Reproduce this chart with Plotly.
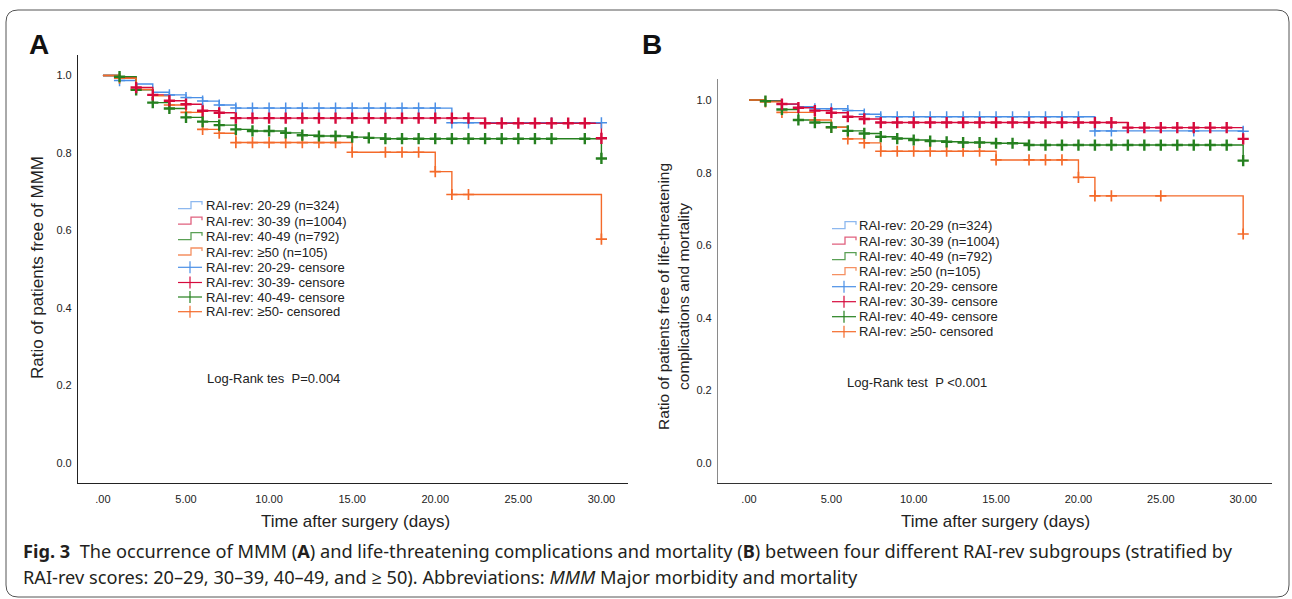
import plotly.graph_objects as go

W, H = 1292, 599

# ---------------- data ----------------
GROUPS = ["20-29", "30-39", "40-49", "≥50"]
N_LABELS = ["RAI-rev: 20-29 (n=324)", "RAI-rev: 30-39 (n=1004)", "RAI-rev: 40-49 (n=792)", "RAI-rev: ≥50 (n=105)"]
CENS_LABELS = ["RAI-rev: 20-29- censore", "RAI-rev: 30-39- censore", "RAI-rev: 40-49- censore", "RAI-rev: ≥50- censored"]

# Panel A (MMM)
A_t_2029 = [0, 1, 2, 3, 4, 5, 6, 7, 8, 21, 30]
A_s_2029 = [1.0, 0.987, 0.978, 0.957, 0.950, 0.943, 0.934, 0.924, 0.916, 0.878, 0.878]
A_t_3039 = [0, 1, 2, 3, 4, 5, 6, 7, 8, 23, 30]
A_s_3039 = [1.0, 0.995, 0.969, 0.950, 0.935, 0.926, 0.909, 0.904, 0.890, 0.877, 0.838]
A_t_4049 = [0, 1, 2, 3, 4, 5, 6, 7, 8, 9, 11, 12, 13, 15, 16, 17, 30]
A_s_4049 = [1.0, 0.997, 0.963, 0.930, 0.915, 0.892, 0.881, 0.872, 0.861, 0.857, 0.852, 0.846, 0.844, 0.841, 0.839, 0.837, 0.786]
A_t_50 = [0, 1, 2, 3, 4, 5, 6, 7, 8, 15, 20, 21, 30]
A_s_50 = [1.0, 0.993, 0.964, 0.948, 0.924, 0.905, 0.861, 0.851, 0.827, 0.802, 0.752, 0.693, 0.578]

A_c_2029 = [1, 4, 5, 6, 7, 8, 9, 10, 11, 12, 13, 14, 15, 16, 17, 18, 19, 20, 21, 22, 24, 27, 30]
A_c_3039 = list(range(2, 31))
A_c_4049 = list(range(1, 28)) + [29, 30]
A_c_50 = [1, 2, 4, 5, 6, 7, 8, 9, 10, 11, 12, 13, 14, 15, 17, 18, 19, 20, 21, 22, 30]

# Panel B (life-threatening complications and mortality)
B_t_2029 = [0, 1, 2, 3, 4, 6, 7, 8, 21, 30]
B_s_2029 = [1.0, 0.998, 0.988, 0.982, 0.976, 0.971, 0.961, 0.954, 0.915, 0.914]
B_t_3039 = [0, 1, 2, 3, 4, 5, 6, 7, 8, 23, 30]
B_s_3039 = [1.0, 0.997, 0.989, 0.979, 0.971, 0.965, 0.954, 0.948, 0.938, 0.924, 0.893]
B_t_4049 = [0, 1, 2, 3, 4, 5, 6, 7, 8, 9, 10, 11, 12, 13, 15, 17, 30]
B_s_4049 = [1.0, 0.997, 0.974, 0.945, 0.938, 0.925, 0.915, 0.908, 0.899, 0.894, 0.890, 0.887, 0.885, 0.883, 0.881, 0.876, 0.833]
B_t_50 = [0, 1, 2, 4, 5, 6, 7, 8, 15, 20, 21, 30]
B_s_50 = [1.0, 0.995, 0.966, 0.945, 0.925, 0.893, 0.882, 0.859, 0.835, 0.787, 0.736, 0.631]

B_c_2029 = list(range(4, 23)) + [27, 30]
B_c_3039 = list(range(2, 31))
B_c_4049 = list(range(1, 31))
B_c_50 = [1, 2, 4, 5, 6, 7, 8, 9, 10, 11, 12, 13, 14, 15, 17, 18, 19, 20, 21, 22, 25, 30]

Y_TICKS = [0.0, 0.2, 0.4, 0.6, 0.8, 1.0]
Y_TICKTEXT = ["0.0", "0.2", "0.4", "0.6", "0.8", "1.0"]
X_TICKS = [0, 5, 10, 15, 20, 25, 30]
X_TICKTEXT = [".00", "5.00", "10.00", "15.00", "20.00", "25.00", "30.00"]

COLORS = ["#4a8fe6", "#d60a3c", "#25801f", "#f46a2a"]
LEG_COLORS = ["#8db8ef", "#e0607e", "#5aa055", "#f59062"]

# ---------------- helpers ----------------
def surv_at(t_list, s_list, d):
    v = s_list[0]
    for t, s in zip(t_list, s_list):
        if t <= d:
            v = s
    return v

def px(x):
    return x / W

def py(y):
    return 1 - y / H

fig = go.Figure()

panels = [
    ("x", "y", [(A_t_2029, A_s_2029, A_c_2029), (A_t_3039, A_s_3039, A_c_3039),
                (A_t_4049, A_s_4049, A_c_4049), (A_t_50, A_s_50, A_c_50)]),
    ("x2", "y2", [(B_t_2029, B_s_2029, B_c_2029), (B_t_3039, B_s_3039, B_c_3039),
                  (B_t_4049, B_s_4049, B_c_4049), (B_t_50, B_s_50, B_c_50)]),
]

widths = [1.5, 2.4, 2.4, 1.7]
for xa, ya, series in panels:
    for i, (t, s, c) in enumerate(series):
        fig.add_trace(go.Scatter(x=t, y=s, mode="lines", line=dict(color=COLORS[i], width=1.4, shape="hv"),
                                 xaxis=xa, yaxis=ya, showlegend=False, hoverinfo="skip"))
    for i in [0, 3, 2, 1]:
        t, s, c = series[i]
        fig.add_trace(go.Scatter(x=c, y=[surv_at(t, s, d) for d in c], mode="markers",
                                 marker=dict(symbol="cross-thin", size=8, color=COLORS[i],
                                             line=dict(color=COLORS[i], width=widths[i])),
                                 xaxis=xa, yaxis=ya, showlegend=False, hoverinfo="skip"))

FONT = "Liberation Sans, Arial, sans-serif"
tickfont = dict(family=FONT, size=11, color="#222")

def xaxis(dom, rng, color):
    return dict(domain=dom, range=rng, showline=True, linecolor=color, linewidth=1.2, showgrid=False,
                zeroline=False, tickvals=X_TICKS, ticktext=X_TICKTEXT, ticks="outside", ticklen=6,
                tickcolor="rgba(0,0,0,0)", tickfont=tickfont)

def yaxis(dom, rng, color, anchor):
    return dict(domain=dom, range=rng, showline=True, linecolor=color, linewidth=1.2, showgrid=False,
                zeroline=False, tickvals=Y_TICKS, ticktext=Y_TICKTEXT, ticks="outside", ticklen=3,
                tickcolor="rgba(0,0,0,0)", tickfont=tickfont, anchor=anchor)

fig.update_layout(
    width=W, height=H, margin=dict(l=0, r=0, t=0, b=0),
    paper_bgcolor="white", plot_bgcolor="white", showlegend=False,
    xaxis=dict(**xaxis([px(78), px(628)], [-1.5, 31.6], "#222"), anchor="y"),
    yaxis=yaxis([py(483), py(55)], [-0.0516, 1.053], "#222", "x"),
    xaxis2=dict(**xaxis([px(718), px(1272)], [-1.88, 31.75], "#333"), anchor="y2"),
    yaxis2=yaxis([py(483), py(79)], [-0.055, 1.058], "#8a8a8a", "x2"),
)

ann = []
shapes = []
txt = "#222"

def note(x, y, text, size, xanchor="center", family=FONT, color=txt, angle=0):
    ann.append(dict(x=px(x), y=py(y), text=text, showarrow=False, xref="paper", yref="paper",
                    xanchor=xanchor, yanchor="middle", textangle=angle,
                    font=dict(family=family, size=size, color=color)))

# panel letters
note(38.5, 44, "<b>A</b>", 28, color="#111")
note(652, 44, "<b>B</b>", 28, color="#111")
# axis titles
note(355, 521, "Time after surgery (days)", 17)
note(995, 521, "Time after surgery (days)", 17)
note(37, 268, "Ratio of patients free of MMM", 17, angle=-90)
note(673, 297, "Ratio of patients free of life-threatening<br>complications and mortality", 15.5, angle=-90)
# log-rank
note(205, 378, "Log-Rank tes\u00a0\u00a0P=0.004", 13, xanchor="left")
note(845, 382, "Log-Rank test\u00a0\u00a0P <0.001", 13, xanchor="left")

# legends
def legend(x0, rows, text_x):
    labels = N_LABELS + CENS_LABELS
    for k, yc in enumerate(rows):
        i = k % 4
        if k < 4:
            path = (f"M {px(x0)} {py(yc + 3)} L {px(x0 + 13)} {py(yc + 3)} L {px(x0 + 13)} {py(yc - 4)} "
                    f"L {px(x0 + 24)} {py(yc - 4)} L {px(x0 + 24)} {py(yc - 1)}")
            shapes.append(dict(type="path", path=path, xref="paper", yref="paper",
                               line=dict(color=LEG_COLORS[i], width=1.3)))
        else:
            shapes.append(dict(type="line", x0=px(x0), x1=px(x0 + 24), y0=py(yc), y1=py(yc), xref="paper",
                               yref="paper", line=dict(color=COLORS[i], width=1.2)))
            shapes.append(dict(type="line", x0=px(x0 + 12), x1=px(x0 + 12), y0=py(yc - 6), y1=py(yc + 6),
                               xref="paper", yref="paper", line=dict(color=COLORS[i], width=1.2)))
        note(text_x, yc, labels[k], 13, xanchor="left")

legend(178, [205.7, 221.2, 236.7, 252.0, 267.3, 282.5, 297.0, 311.7], 204)
legend(832, [225.7, 241.2, 256.7, 271.7, 286.7, 301.7, 316.7, 331.7], 857)

# caption
CAP = "Noto Sans, Open Sans, sans-serif"
note(21, 551, "<b>Fig. 3</b>\u00a0\u00a0The occurrence of MMM (<b>A</b>) and life-threatening complications and mortality (<b>B</b>) between four different RAI-rev subgroups (stratified by",
     18.2, xanchor="left", family=CAP, color="#231f20")
note(21, 577, "RAI-rev scores: 20–29, 30–39, 40–49, and ≥ 50). Abbreviations: <i>MMM</i> Major morbidity and mortality",
     18.2, xanchor="left", family=CAP, color="#231f20")

# outer rounded border
r = 12
x0b, x1b, y0b, y1b = 6, 1289, 10, 597
path = (f"M {px(x0b + r)} {py(y0b)} L {px(x1b - r)} {py(y0b)} "
        f"Q {px(x1b)} {py(y0b)} {px(x1b)} {py(y0b + r)} L {px(x1b)} {py(y1b - r)} "
        f"Q {px(x1b)} {py(y1b)} {px(x1b - r)} {py(y1b)} L {px(x0b + r)} {py(y1b)} "
        f"Q {px(x0b)} {py(y1b)} {px(x0b)} {py(y1b - r)} L {px(x0b)} {py(y0b + r)} "
        f"Q {px(x0b)} {py(y0b)} {px(x0b + r)} {py(y0b)} Z")
shapes.append(dict(type="path", path=path, xref="paper", yref="paper", line=dict(color="#555", width=1)))

fig.update_layout(annotations=ann, shapes=shapes)
fig.write_html("out.html", config={"displayModeBar": False},
               post_script="document.body.style.margin='0';document.body.style.overflow='hidden';")
